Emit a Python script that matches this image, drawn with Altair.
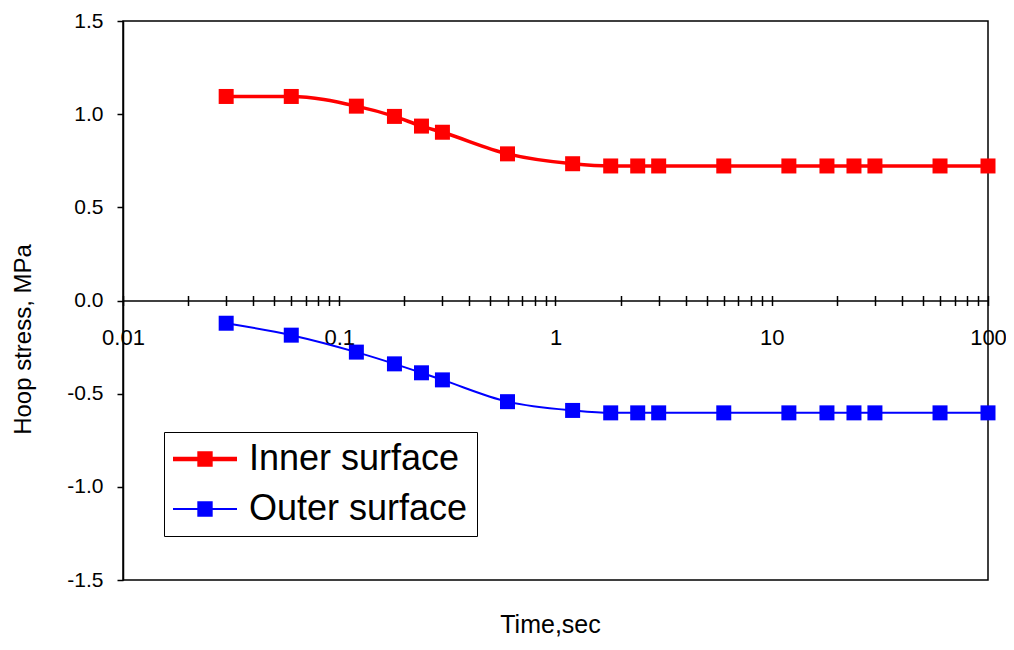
import altair as alt
import pandas as pd

# ---- data ----
time_s = [0.03, 0.06, 0.12, 0.18, 0.24, 0.3, 0.6, 1.2, 1.8, 2.4, 3, 6, 12, 18, 24, 30, 60, 100]
inner = [1.095, 1.095, 1.043, 0.988, 0.936, 0.903, 0.787, 0.734, 0.722, 0.722, 0.722,
         0.722, 0.722, 0.722, 0.722, 0.722, 0.722, 0.722]
outer = [-0.122, -0.186, -0.277, -0.340, -0.388, -0.426, -0.543, -0.590, -0.603, -0.603,
         -0.603, -0.603, -0.603, -0.603, -0.603, -0.603, -0.603, -0.603]
series_names = ["Inner surface", "Outer surface"]
major_ticks = [0.01, 0.1, 1, 10, 100]
x_ticks = [round(m * 10.0 ** e, 6) for e in range(-2, 2) for m in range(1, 10)] + [100]
y_ticks = [-1.5, -1.0, -0.5, 0.0, 0.5, 1.0, 1.5]

df = pd.DataFrame({
    "time": time_s * 2,
    "stress": inner + outer,
    "series": [series_names[0]] * len(time_s) + [series_names[1]] * len(time_s),
})

# ---- styling ----
FONT = "Liberation Sans"
colors = ["#ff0000", "#0000ff"]
line_widths = [3.5, 2.0]
legend_paths = [
    "M-1,-0.07L1,-0.07L1,0.07L-1,0.07Z M-0.24,-0.24L0.24,-0.24L0.24,0.24L-0.24,0.24Z",
    "M-1,-0.03L1,-0.03L1,0.03L-1,0.03Z M-0.24,-0.24L0.24,-0.24L0.24,0.24L-0.24,0.24Z",
]
TOP = 13
W, H = 865, 559
ZERO_OFF = -H / 2

xscale = alt.Scale(type="log", domain=[0.01, 100], nice=False)
yscale = alt.Scale(domain=[-1.5, 1.5], nice=False, zero=False)
cscale = alt.Scale(domain=series_names, range=colors)

major_list = "[" + ",".join(str(v) for v in major_ticks) + "]"
label_expr = f"indexof({major_list}, datum.value) >= 0 ? format(datum.value, '~g') : ''"
y_label_expr = "(datum.value < 0 ? '-' : '') + format(abs(datum.value), '.1f')"

x_bottom = alt.X(
    "time:Q", scale=xscale,
    axis=alt.Axis(orient="bottom", offset=ZERO_OFF, values=x_ticks, labelExpr=label_expr,
                  tickSize=5, tickWidth=1.5, tickColor="black", domainColor="black",
                  domainWidth=1.5, labelPadding=22, labelFontSize=22, labelFont=FONT,
                  labelColor="black", labelOverlap=False, labelFlush=False, grid=False,
                  title=None),
)
x_top = alt.X(
    "time:Q", scale=xscale,
    axis=alt.Axis(orient="top", offset=ZERO_OFF, values=x_ticks, labels=False, domain=False,
                  tickSize=5, tickWidth=1.5, tickColor="black", grid=False, title=None),
)
y_enc = alt.Y(
    "stress:Q", scale=yscale,
    axis=alt.Axis(values=y_ticks, labelExpr=y_label_expr, tickSize=6, tickWidth=1.5,
                  tickColor="black", domainColor="black", domainWidth=1.5, labelPadding=14,
                  labelFontSize=21, labelFont=FONT, labelColor="black", grid=False,
                  title="Hoop stress, MPa", titleFont=FONT, titleFontSize=24,
                  titleFontWeight="normal", titleColor="black", titleAngle=270,
                  titleX=-100, titleY=318, titleAlign="center", titleBaseline="middle"),
)

is_inner = alt.datum.series == series_names[0]
base = alt.Chart(df)

lines = base.mark_line(interpolate="monotone").encode(
    x=x_bottom,
    y=y_enc,
    detail="series:N",
    stroke=alt.condition(is_inner, alt.value(colors[0]), alt.value(colors[1])),
    strokeWidth=alt.condition(is_inner, alt.value(line_widths[0]), alt.value(line_widths[1])),
)

points = base.mark_point(shape="square", filled=True, size=225, opacity=1).encode(
    x=x_top,
    y=y_enc,
    fill=alt.condition(is_inner, alt.value(colors[0]), alt.value(colors[1])),
)

leg = alt.Legend(title=None, orient="none", legendX=41, legendY=432 - 8 - TOP, labelFontSize=36,
                 labelFont=FONT, labelColor="black", labelLimit=400, symbolSize=4096,
                 clipHeight=36, rowPadding=14, padding=9, labelOffset=12,
                 strokeColor="black", fillColor="white", symbolStrokeWidth=0)

legend_layer = base.transform_filter("false").mark_point(filled=True, opacity=1).encode(
    color=alt.Color("series:N", scale=cscale, legend=leg),
    shape=alt.Shape("series:N", scale=alt.Scale(domain=series_names, range=legend_paths), legend=leg),
)

chart = alt.layer(lines, points, legend_layer).properties(
    width=W, height=H,
    autosize=alt.AutoSizeParams(type="none"),
    padding={"left": 115, "top": TOP, "right": 18, "bottom": 68},
    title=alt.TitleParams(text="Time,sec", orient="bottom", anchor="middle", frame="group",
                          offset=23, fontSize=25, font=FONT, fontWeight="normal", color="black",
                          dx=-5),
).configure_view(stroke="black", strokeWidth=1.5)

chart.save("out.html", embed_options={"renderer": "svg", "actions": False})
